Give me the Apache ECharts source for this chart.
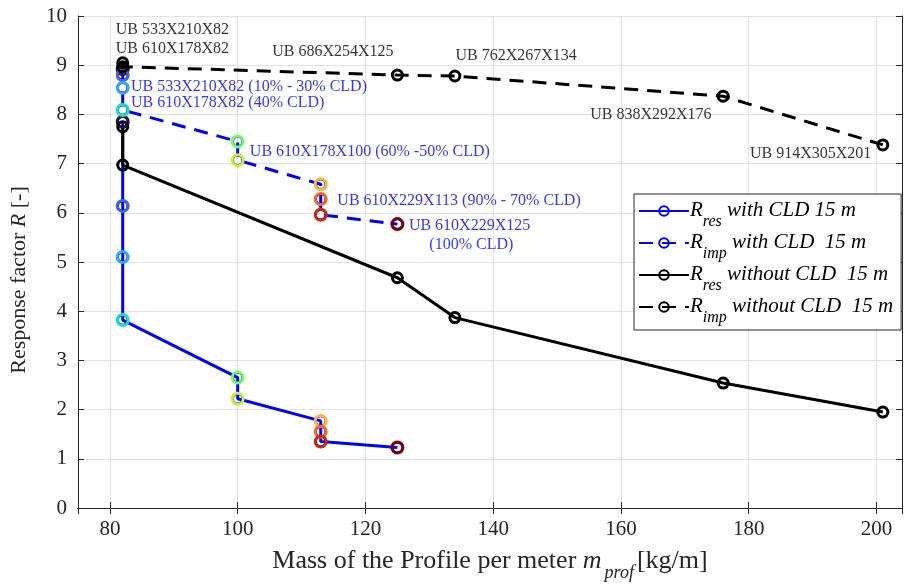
<!DOCTYPE html>
<html>
<head>
<meta charset="utf-8">
<script src="https://cdn.jsdelivr.net/npm/echarts@6.0.0/dist/echarts.min.js"></script>
<style>
  html, body { margin: 0; padding: 0; background: #fff; }
  #chart { width: 909px; height: 588px; }
</style>
</head>
<body>
<div id="chart"></div>
<script>
// R_res / R_imp with CLD 15 m (one point per CLD step, 10% .. 100%)
const cldMass = [82, 82, 82, 82, 100, 100, 113, 113, 113, 125]
const resWithCld = [7.85, 6.14, 5.10, 3.82, 2.65, 2.22, 1.77, 1.55, 1.35, 1.23]
const impWithCld = [8.92, 8.80, 8.54, 8.09, 7.45, 7.07, 6.58, 6.28, 5.96, 5.77]
// turbo colours used for the CLD steps
const cldColors = ['#30123b', '#4662d7', '#36aaf9', '#1ae4b6', '#72fe5e',
  '#c7ef34', '#fbb938', '#f66b19', '#cb2a04', '#7a0403']

// without CLD
const noCldMass = [82, 82, 125, 134, 176, 201]
const resNoCld = [7.75, 6.97, 4.68, 3.87, 2.54, 1.95]
const impNoCld = [9.05, 8.97, 8.80, 8.78, 8.37, 7.38]

// profile annotations
const blackLabels = ['UB 533X210X82', 'UB 610X178X82', 'UB 686X254X125',
  'UB 762X267X134', 'UB 838X292X176', 'UB 914X305X201']
const blackLabelX = [80.9, 80.9, 105.4, 134.1, 155.2, 180.2]
const blackLabelY = [9.72, 9.34, 9.28, 9.19, 7.99, 7.20]
const blueLabels = ['UB 533X210X82 (10% - 30% CLD)', 'UB 610X178X82 (40% CLD)',
  'UB 610X178X100 (60% -50% CLD)', 'UB 610X229X113 (90% - 70% CLD)',
  'UB 610X229X125', '(100% CLD)']
const blueLabelX = [83.3, 83.3, 101.9, 115.6, 126.8, 130.0]
const blueLabelY = [8.56, 8.23, 7.24, 6.24, 5.73, 5.35]

const serif = 'Liberation Serif'
const axisColor = '#262626'
const gridColor = '#e3e3e3'
const clear = 'rgba(0,0,0,0)'

function pairs(xs, ys) {
  return xs.map((x, i) => [x, ys[i]])
}

function colored(xs, ys) {
  return xs.map((x, i) => ({
    value: [x, ys[i]],
    itemStyle: { color: clear, borderColor: cldColors[i], borderWidth: 3, opacity: 1 }
  }))
}

function labelSeries(xs, ys, texts, color) {
  return {
    type: 'scatter',
    symbolSize: 0,
    silent: true,
    z: 10,
    data: xs.map((x, i) => ({ value: [x, ys[i]], name: texts[i] })),
    label: {
      show: true,
      position: 'right',
      distance: 0,
      formatter: p => p.name,
      color: color,
      fontFamily: serif,
      fontSize: 16
    }
  }
}

const legendNames = {
  resWith: '{i|R}{s|res}{i| with CLD 15 m}',
  impWith: '{i|R}{s|imp}{i| with CLD  15 m}',
  resWithout: '{i|R}{s|res}{i| without CLD  15 m}',
  impWithout: '{i|R}{s|imp}{i| without CLD  15 m}'
}

const chart = echarts.init(document.getElementById('chart'))

chart.setOption({
  animation: false,
  backgroundColor: '#fff',
  grid: { left: 74, right: 7, top: 16, bottom: 80, containLabel: false },
  xAxis: [{
    type: 'value',
    min: 75,
    max: 204,
    splitNumber: 6,
    name: '{n|Mass of the Profile per meter }{i|m}{s|prof}{n|[kg/m]}',
    nameLocation: 'middle',
    nameGap: 40,
    nameTextStyle: {
      rich: {
        n: { fontFamily: serif, fontSize: 26, color: axisColor, lineHeight: 28, verticalAlign: 'top' },
        i: { fontFamily: serif, fontSize: 26, fontStyle: 'italic', color: axisColor, lineHeight: 28, verticalAlign: 'top' },
        s: { fontFamily: serif, fontSize: 18, fontStyle: 'italic', color: axisColor, lineHeight: 18, padding: [16, 3, 0, 3], verticalAlign: 'top' }
      }
    },
    axisLine: { show: true, lineStyle: { color: axisColor, width: 1 } },
    axisTick: { show: true, inside: true, length: 6, lineStyle: { color: axisColor } },
    axisLabel: { showMinLabel: false, showMaxLabel: false, margin: 11, fontFamily: serif, fontSize: 21, color: axisColor },
    splitLine: { show: true, lineStyle: { color: gridColor, width: 1 } }
  }, {
    type: 'value',
    position: 'top',
    min: 75,
    max: 204,
    splitNumber: 6,
    axisLine: { show: true, lineStyle: { color: axisColor, width: 1 } },
    axisTick: { show: true, inside: true, length: 6, lineStyle: { color: axisColor } },
    axisLabel: { show: false },
    splitLine: { show: false }
  }],
  yAxis: [{
    type: 'value',
    min: 0,
    max: 10,
    interval: 1,
    name: '{n|Response factor }{i|R}{n| [-]}',
    nameLocation: 'middle',
    nameGap: 48,
    nameTextStyle: {
      padding: [0, 36, 0, 0],
      rich: {
        n: { fontFamily: serif, fontSize: 22, color: axisColor },
        i: { fontFamily: serif, fontSize: 22, fontStyle: 'italic', color: axisColor }
      }
    },
    axisLine: { show: true, lineStyle: { color: axisColor, width: 1 } },
    axisTick: { show: true, inside: true, length: 6, lineStyle: { color: axisColor } },
    axisLabel: { margin: 11, fontFamily: serif, fontSize: 21, color: axisColor },
    splitLine: { show: true, lineStyle: { color: gridColor, width: 1 } }
  }, {
    type: 'value',
    position: 'right',
    min: 0,
    max: 10,
    interval: 1,
    axisLine: { show: true, lineStyle: { color: axisColor, width: 1 } },
    axisTick: { show: true, inside: true, length: 6, lineStyle: { color: axisColor } },
    axisLabel: { show: false },
    splitLine: { show: false }
  }],
  legend: {
    data: ['resWith', 'impWith', 'resWithout', 'impWithout'],
    orient: 'vertical',
    left: 634,
    top: 194,
    itemWidth: 50,
    itemHeight: 12,
    itemGap: 2,
    padding: [6, 8, 4, 4],
    backgroundColor: '#fff',
    borderColor: axisColor,
    borderWidth: 1,
    borderRadius: 0,
    formatter: name => legendNames[name],
    textStyle: {
      padding: [0, 0, 0, -4],
      rich: {
        i: { fontFamily: serif, fontSize: 21, fontStyle: 'italic', color: '#000', lineHeight: 22, verticalAlign: 'top' },
        s: { fontFamily: serif, fontSize: 16, fontStyle: 'italic', color: '#000', lineHeight: 16, padding: [14, 0, 0, 0], verticalAlign: 'top' }
      }
    }
  },
  series: [
    {
      name: 'resWith',
      type: 'line',
      z: 2,
      data: pairs(cldMass, resWithCld),
      symbol: 'circle',
      symbolSize: 10,
      itemStyle: { color: clear, borderColor: '#0000ff', borderWidth: 2.5 },
      lineStyle: { color: '#0000ff', width: 3 }
    },
    {
      name: 'impWith',
      type: 'line',
      z: 2,
      data: pairs(cldMass, impWithCld),
      symbol: 'circle',
      symbolSize: 10,
      itemStyle: { color: clear, borderColor: '#0000ff', borderWidth: 2.5 },
      lineStyle: { color: '#0000ff', width: 3, type: [14, 9] }
    },
    {
      type: 'scatter',
      z: 3,
      data: colored(cldMass, resWithCld),
      symbol: 'circle',
      symbolSize: 11,
      itemStyle: { opacity: 1 }
    },
    {
      type: 'scatter',
      z: 3,
      data: colored(cldMass, impWithCld),
      symbol: 'circle',
      symbolSize: 11,
      itemStyle: { opacity: 1 }
    },
    {
      name: 'resWithout',
      type: 'line',
      z: 4,
      data: pairs(noCldMass, resNoCld),
      symbol: 'circle',
      symbolSize: 10,
      itemStyle: { color: clear, borderColor: '#000', borderWidth: 3 },
      lineStyle: { color: '#000', width: 3 }
    },
    {
      name: 'impWithout',
      type: 'line',
      z: 4,
      data: pairs(noCldMass, impNoCld),
      symbol: 'circle',
      symbolSize: 10,
      itemStyle: { color: clear, borderColor: '#000', borderWidth: 3 },
      lineStyle: { color: '#000', width: 3, type: [14, 9] }
    },
    labelSeries(blackLabelX, blackLabelY, blackLabels, '#000'),
    labelSeries(blueLabelX, blueLabelY, blueLabels, '#0000ff')
  ]
})
</script>
</body>
</html>
